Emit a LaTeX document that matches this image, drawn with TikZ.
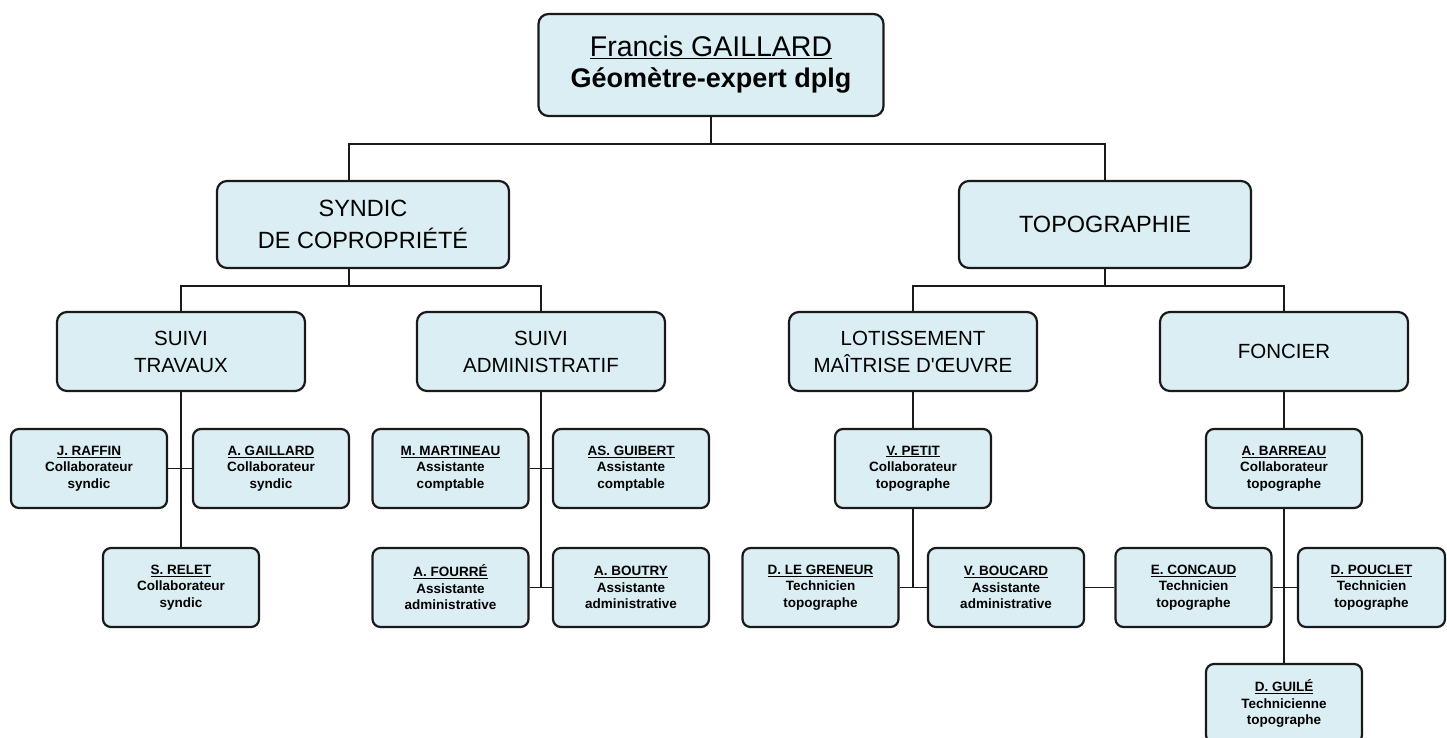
\documentclass[tikz,border=0pt]{standalone}
\usepackage{fontspec}
\setmainfont{Liberation Sans}
\definecolor{boxfill}{HTML}{DAEEF3}
\definecolor{boxline}{HTML}{1A1A1A}
\tikzset{
  box/.style={draw=boxline, line width=2.2pt, fill=boxfill, rounded corners=10pt, align=center, inner sep=0pt},
  topbox/.style={box, minimum width=345pt, minimum height=102pt, font=\fontsize{28.5}{31}\selectfont},
  lvlone/.style={box, minimum width=292pt, minimum height=87pt, font=\fontsize{23.5}{32}\selectfont},
  lvltwo/.style={box, minimum width=248pt, minimum height=79pt, font=\fontsize{20.5}{27}\selectfont},
  person/.style={box, rounded corners=8pt, minimum width=156pt, minimum height=79pt, font=\bfseries\fontsize{13.5}{16.5}\selectfont},
  link/.style={line width=1.8pt, draw=boxline}
}
\begin{document}
\begin{tikzpicture}[x=1pt, y=-1pt]
\useasboundingbox (0,0) rectangle (1447,738);
\clip (0,0) rectangle (1447,738);
% nodes
\node[topbox] (top) at (711,65) {\underline{Francis GAILLARD}\\{\bfseries\fontsize{27}{31}\selectfont Géomètre-expert dplg}};
\node[lvlone] (syn) at (363,224.5) {SYNDIC\\DE COPROPRIÉTÉ};
\node[lvlone] (topo) at (1105,224.5) {TOPOGRAPHIE};
\node[lvltwo] (trav) at (181,351.5) {SUIVI\\TRAVAUX};
\node[lvltwo] (adm) at (541,351.5) {SUIVI\\ADMINISTRATIF};
\node[lvltwo] (lot) at (913,351.5) {LOTISSEMENT\\MAÎTRISE D\textquotesingle ŒUVRE};
\node[lvltwo] (fon) at (1284,351.5) {FONCIER};
% persons
\node[person] (raffin) at (89,468.5) {\underline{J. RAFFIN}\\Collaborateur\\syndic};
\node[person] (gaillard) at (271,468.5) {\underline{A. GAILLARD}\\Collaborateur\\syndic};
\node[person] (relet) at (181,587.5) {\underline{S. RELET}\\Collaborateur\\syndic};
\node[person] (martineau) at (450.5,468.5) {\underline{M. MARTINEAU}\\Assistante\\comptable};
\node[person] (guibert) at (631,468.5) {\underline{AS. GUIBERT}\\Assistante\\comptable};
\node[person] (fourre) at (450.5,587.5) {\underline{A. FOURRÉ}\\Assistante\\administrative};
\node[person] (boutry) at (631,587.5) {\underline{A. BOUTRY}\\Assistante\\administrative};
\node[person] (petit) at (913,468.5) {\underline{V. PETIT}\\Collaborateur\\topographe};
\node[person] (greneur) at (820.5,587.5) {\underline{D. LE GRENEUR}\\Technicien\\topographe};
\node[person] (boucard) at (1006,587.5) {\underline{V. BOUCARD}\\Assistante\\administrative};
\node[person] (barreau) at (1284,468.5) {\underline{A. BARREAU}\\Collaborateur\\topographe};
\node[person] (concaud) at (1193.5,587.5) {\underline{E. CONCAUD}\\Technicien\\topographe};
\node[person, minimum width=147pt] (pouclet) at (1371.5,587.5) {\underline{D. POUCLET}\\Technicien\\topographe};
\node[person] (guile) at (1284,703.5) {\underline{D. GUILÉ}\\Technicienne\\topographe};
% buses
\coordinate (bus1) at (0,144);
\coordinate (bus2) at (0,286);
\draw[link] (top.south) -- (top.south |- bus1);
\draw[link] ([xshift=-14pt]syn.north) |- (topo.north |- bus1) -- (topo.north);
\draw[link] ([xshift=-14pt]syn.south) -- ([xshift=-14pt]syn.south |- bus2);
\draw[link] (trav.north) |- (adm.north |- bus2) -- (adm.north);
\draw[link] (topo.south) -- (topo.south |- bus2);
\draw[link] (lot.north) |- (fon.north |- bus2) -- (fon.north);
% suivi travaux
\draw[link] (trav.south) -- (relet.north);
\draw[link] (raffin.east) -- (gaillard.west);
% suivi administratif
\draw[link] (adm.south) -- (adm.south |- fourre.east);
\draw[link] (martineau.east) -- (guibert.west);
\draw[link] (fourre.east) -- (boutry.west);
% lotissement
\draw[link] (lot.south) -- (petit.north);
\draw[link] (petit.south) -- (petit.south |- greneur.east);
\draw[link] (greneur.east) -- (boucard.west);
\draw[link] (boucard.east) -- (concaud.west);
% foncier
\draw[link] (fon.south) -- (barreau.north);
\draw[link] (barreau.south) -- (guile.north);
\draw[link] (concaud.east) -- (pouclet.west);
\end{tikzpicture}
\end{document}
